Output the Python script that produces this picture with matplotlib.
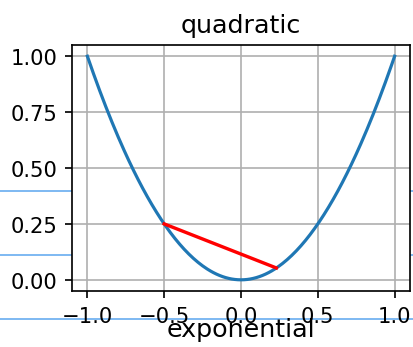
import numpy as np
import matplotlib
matplotlib.use('Agg')
import matplotlib.pyplot as plt
from matplotlib.lines import Line2D

# data
x_vals = np.linspace(-1, 1, 201)
y_vals = x_vals ** 2
chord_x = [-0.5, 0.23]
chord_y = [0.25, 0.053]
guide_rows = [192, 256, 320]   # light blue lines seen behind the axes (pixel rows)

dpi = 152
fig = plt.figure(figsize=(413 / dpi, 348 / dpi), dpi=dpi)
ax = fig.add_axes([72 / 413, 1 - 292 / 348, 338 / 413, 246 / 348])

for row in guide_rows:
    fy = 1 - row / 348
    fig.add_artist(Line2D([0, 1], [fy, fy], transform=fig.transFigure,
                          color='#6aaef0', lw=0.8, zorder=-1))

ax.plot(x_vals, y_vals, color='#1f77b4', lw=1.5)
ax.plot(chord_x, chord_y, color='red', lw=1.6)
ax.set_xlim(-1.1, 1.1)
ax.set_ylim(-0.05, 1.05)
ax.set_xticks([-1.0, -0.5, 0.0, 0.5, 1.0])
ax.set_yticks([0.0, 0.25, 0.5, 0.75, 1.0])
ax.grid(True)
ax.set_title('quadratic')

fig.text(241 / 413, 1 - 330 / 348, 'exponential', ha='center', va='center', fontsize=12)

fig.savefig('out.png', dpi=dpi)
